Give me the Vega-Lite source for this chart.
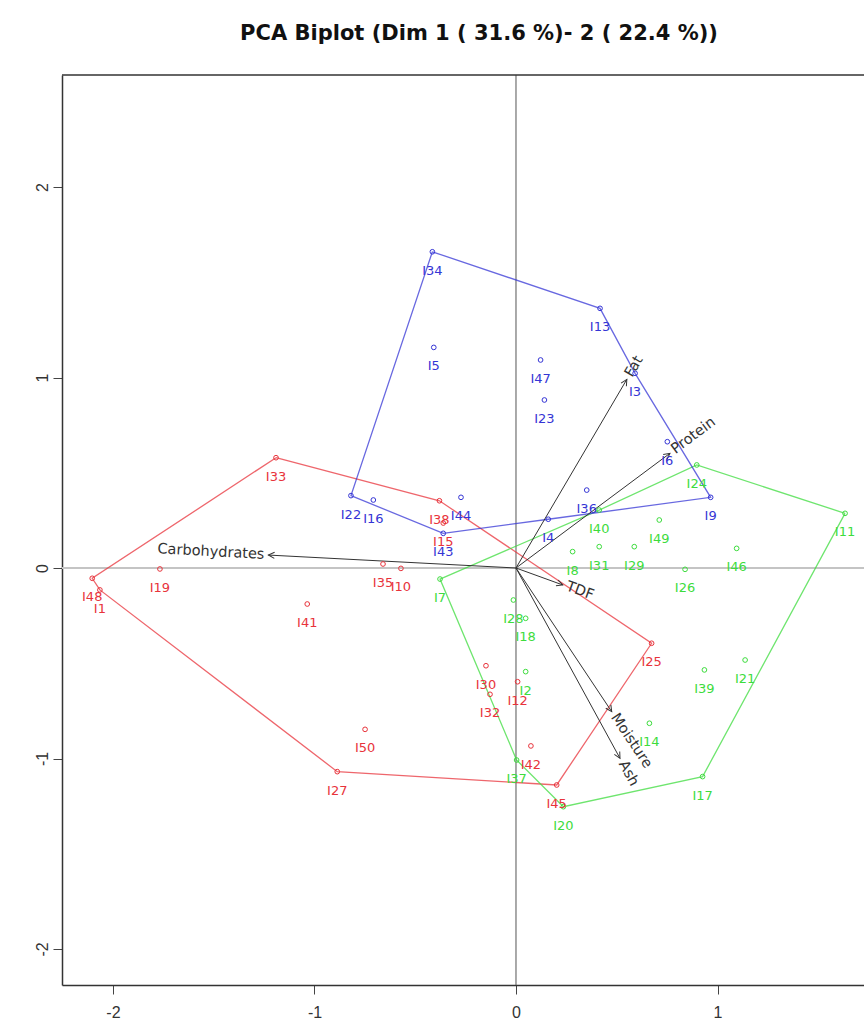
{
  "$schema": "https://vega.github.io/schema/vega-lite/v6.json",
  "width": 802,
  "height": 910,
  "autosize": {"type": "none"},
  "padding": {"left": 62, "top": 75, "right": 0, "bottom": 45},
  "title": {"text": "PCA Biplot (Dim 1 ( 31.6 %)- 2 ( 22.4 %))", "font": "DejaVu Sans", "fontSize": 21, "fontWeight": "bold", "color": "#111", "anchor": "middle", "dx": 16, "baseline": "alphabetic", "offset": 13},
  "config": {
    "view": {"stroke": null},
    "axis": {"grid": false, "domainColor": "#333", "domainWidth": 1.5, "tickColor": "#444", "tickSize": 9, "labelFont": "Liberation Sans", "labelFontSize": 16, "labelColor": "#333", "title": null}
  },
  "data": {"name": "points"},
  "datasets": {
    "points": [
      {"id": "I34", "x": -0.415, "y": 1.660, "cluster": "3"},
      {"id": "I5", "x": -0.408, "y": 1.158, "cluster": "3"},
      {"id": "I47", "x": 0.122, "y": 1.092, "cluster": "3"},
      {"id": "I23", "x": 0.141, "y": 0.882, "cluster": "3"},
      {"id": "I13", "x": 0.417, "y": 1.363, "cluster": "3"},
      {"id": "I3", "x": 0.591, "y": 1.022, "cluster": "3"},
      {"id": "I6", "x": 0.751, "y": 0.663, "cluster": "3"},
      {"id": "I9", "x": 0.966, "y": 0.371, "cluster": "3"},
      {"id": "I22", "x": -0.819, "y": 0.380, "cluster": "3"},
      {"id": "I16", "x": -0.708, "y": 0.357, "cluster": "3"},
      {"id": "I44", "x": -0.273, "y": 0.371, "cluster": "3"},
      {"id": "I43", "x": -0.361, "y": 0.182, "cluster": "3"},
      {"id": "I36", "x": 0.351, "y": 0.409, "cluster": "3"},
      {"id": "I4", "x": 0.160, "y": 0.256, "cluster": "3"},
      {"id": "I33", "x": -1.191, "y": 0.579, "cluster": "1"},
      {"id": "I38", "x": -0.380, "y": 0.353, "cluster": "1"},
      {"id": "I15", "x": -0.361, "y": 0.236, "cluster": "1"},
      {"id": "I19", "x": -1.767, "y": -0.005, "cluster": "1"},
      {"id": "I48", "x": -2.103, "y": -0.054, "cluster": "1"},
      {"id": "I1", "x": -2.065, "y": -0.115, "cluster": "1"},
      {"id": "I41", "x": -1.036, "y": -0.189, "cluster": "1"},
      {"id": "I35", "x": -0.660, "y": 0.021, "cluster": "1"},
      {"id": "I10", "x": -0.571, "y": -0.002, "cluster": "1"},
      {"id": "I30", "x": -0.149, "y": -0.513, "cluster": "1"},
      {"id": "I32", "x": -0.129, "y": -0.663, "cluster": "1"},
      {"id": "I12", "x": 0.008, "y": -0.597, "cluster": "1"},
      {"id": "I42", "x": 0.074, "y": -0.934, "cluster": "1"},
      {"id": "I25", "x": 0.673, "y": -0.395, "cluster": "1"},
      {"id": "I27", "x": -0.887, "y": -1.069, "cluster": "1"},
      {"id": "I50", "x": -0.749, "y": -0.847, "cluster": "1"},
      {"id": "I45", "x": 0.202, "y": -1.139, "cluster": "1"},
      {"id": "I11", "x": 1.633, "y": 0.287, "cluster": "2"},
      {"id": "I24", "x": 0.897, "y": 0.541, "cluster": "2"},
      {"id": "I40", "x": 0.413, "y": 0.304, "cluster": "2"},
      {"id": "I49", "x": 0.711, "y": 0.252, "cluster": "2"},
      {"id": "I31", "x": 0.413, "y": 0.112, "cluster": "2"},
      {"id": "I29", "x": 0.587, "y": 0.112, "cluster": "2"},
      {"id": "I46", "x": 1.095, "y": 0.103, "cluster": "2"},
      {"id": "I8", "x": 0.281, "y": 0.086, "cluster": "2"},
      {"id": "I26", "x": 0.839, "y": -0.007, "cluster": "2"},
      {"id": "I7", "x": -0.377, "y": -0.058, "cluster": "2"},
      {"id": "I28", "x": -0.013, "y": -0.168, "cluster": "2"},
      {"id": "I18", "x": 0.048, "y": -0.264, "cluster": "2"},
      {"id": "I2", "x": 0.048, "y": -0.544, "cluster": "2"},
      {"id": "I37", "x": 0.003, "y": -1.008, "cluster": "2"},
      {"id": "I20", "x": 0.235, "y": -1.253, "cluster": "2"},
      {"id": "I14", "x": 0.662, "y": -0.815, "cluster": "2"},
      {"id": "I39", "x": 0.935, "y": -0.535, "cluster": "2"},
      {"id": "I21", "x": 1.137, "y": -0.483, "cluster": "2"},
      {"id": "I17", "x": 0.926, "y": -1.095, "cluster": "2"}
    ],
    "hull": [
      {"cluster": "1", "ord": 1, "x": -1.191, "y": 0.579},
      {"cluster": "1", "ord": 2, "x": -0.380, "y": 0.353},
      {"cluster": "1", "ord": 3, "x": 0.673, "y": -0.395},
      {"cluster": "1", "ord": 4, "x": 0.202, "y": -1.139},
      {"cluster": "1", "ord": 5, "x": -0.887, "y": -1.069},
      {"cluster": "1", "ord": 6, "x": -2.065, "y": -0.115},
      {"cluster": "1", "ord": 7, "x": -2.103, "y": -0.054},
      {"cluster": "1", "ord": 8, "x": -1.191, "y": 0.579},
      {"cluster": "2", "ord": 1, "x": 1.633, "y": 0.287},
      {"cluster": "2", "ord": 2, "x": 0.897, "y": 0.541},
      {"cluster": "2", "ord": 3, "x": 0.413, "y": 0.304},
      {"cluster": "2", "ord": 4, "x": -0.377, "y": -0.058},
      {"cluster": "2", "ord": 5, "x": 0.003, "y": -1.008},
      {"cluster": "2", "ord": 6, "x": 0.235, "y": -1.253},
      {"cluster": "2", "ord": 7, "x": 0.926, "y": -1.095},
      {"cluster": "2", "ord": 8, "x": 1.633, "y": 0.287},
      {"cluster": "3", "ord": 1, "x": -0.415, "y": 1.660},
      {"cluster": "3", "ord": 2, "x": 0.417, "y": 1.363},
      {"cluster": "3", "ord": 3, "x": 0.591, "y": 1.022},
      {"cluster": "3", "ord": 4, "x": 0.966, "y": 0.371},
      {"cluster": "3", "ord": 5, "x": 0.160, "y": 0.256},
      {"cluster": "3", "ord": 6, "x": -0.361, "y": 0.182},
      {"cluster": "3", "ord": 7, "x": -0.819, "y": 0.380},
      {"cluster": "3", "ord": 8, "x": -0.415, "y": 1.660}
    ],
    "vars": [
      {"name": "Fat", "x": 0.55, "y": 0.99},
      {"name": "Protein", "x": 0.764, "y": 0.602},
      {"name": "Carbohydrates", "x": -1.229, "y": 0.068},
      {"name": "TDF", "x": 0.232, "y": -0.089},
      {"name": "Moisture", "x": 0.475, "y": -0.754},
      {"name": "Ash", "x": 0.516, "y": -0.999}
    ],
    "one": [{"k": 1}]
  },
  "layer": [
    {
      "data": {"name": "one"},
      "mark": {"type": "rule", "color": "#c4c4c4", "strokeWidth": 2},
      "encoding": {"y": {"datum": 0, "type": "quantitative", "scale": {"domain": [-2.189, 2.588], "nice": false, "zero": false}}}
    },
    {
      "data": {"name": "one"},
      "mark": {"type": "rule", "color": "#555", "strokeWidth": 1},
      "encoding": {"x": {"datum": 0, "type": "quantitative", "scale": {"domain": [-2.253, 1.727], "nice": false, "zero": false}}}
    },
    {
      "data": {"name": "one"},
      "mark": {"type": "rule", "color": "#333", "strokeWidth": 1.5},
      "encoding": {"y": {"datum": 2.588, "type": "quantitative"}}
    },
    {
      "data": {"name": "hull"},
      "mark": {"type": "line", "strokeWidth": 1.3, "opacity": 0.75},
      "encoding": {
        "x": {"field": "x", "type": "quantitative"},
        "y": {"field": "y", "type": "quantitative"},
        "color": {"field": "cluster", "type": "nominal", "scale": {"domain": ["1", "2", "3"], "range": ["#e8333b", "#3ddc3d", "#3535d5"]}, "legend": null},
        "detail": {"field": "cluster", "type": "nominal"},
        "order": {"field": "ord", "type": "quantitative"}
      }
    },
    {
      "data": {"name": "vars"},
      "mark": {"type": "rule", "color": "#333", "strokeWidth": 1},
      "encoding": {
        "x": {"field": "x", "type": "quantitative"},
        "y": {"field": "y", "type": "quantitative"},
        "x2": {"datum": 0},
        "y2": {"datum": 0}
      }
    },
    {
      "data": {"name": "vars"},
      "transform": [{"calculate": "atan2(datum.x * 201.5, datum.y * 190.5) * 180 / PI", "as": "ha"}],
      "mark": {"type": "point", "shape": "M-0.5,1L0,0L0.5,1", "filled": false, "color": "#333", "strokeWidth": 1, "size": 150, "opacity": 1},
      "encoding": {
        "x": {"field": "x", "type": "quantitative"},
        "y": {"field": "y", "type": "quantitative"},
        "angle": {"field": "ha", "type": "quantitative", "scale": null}
      }
    },
    {
      "mark": {"type": "point", "shape": "circle", "filled": false, "size": 22, "strokeWidth": 1, "opacity": 1},
      "encoding": {
        "x": {"field": "x", "type": "quantitative", "axis": {"values": [-2, -1, 0, 1], "labelPadding": 10, "labelExpr": "toString(datum.value)"}},
        "y": {"field": "y", "type": "quantitative", "axis": {"values": [-2, -1, 0, 1, 2], "labelAngle": -90, "labelAlign": "center", "labelBaseline": "bottom", "labelPadding": 3, "labelExpr": "toString(datum.value)"}},
        "color": {"field": "cluster", "type": "nominal", "legend": null}
      }
    },
    {
      "mark": {"type": "text", "font": "DejaVu Sans", "fontSize": 13, "dy": 19, "baseline": "middle", "align": "center"},
      "encoding": {
        "x": {"field": "x", "type": "quantitative"},
        "y": {"field": "y", "type": "quantitative"},
        "text": {"field": "id", "type": "nominal"},
        "color": {"field": "cluster", "type": "nominal", "legend": null}
      }
    },
    {
      "data": {"name": "vars"},
      "transform": [
        {"filter": "datum.x > 0"},
        {"calculate": "atan(-(datum.y * 190.5) / (datum.x * 201.5)) * 180 / PI", "as": "ta"}
      ],
      "mark": {"type": "text", "font": "DejaVu Sans", "fontSize": 14.5, "color": "#333", "align": "left", "baseline": "middle", "dx": 4},
      "encoding": {
        "x": {"field": "x", "type": "quantitative"},
        "y": {"field": "y", "type": "quantitative"},
        "text": {"field": "name", "type": "nominal"},
        "angle": {"field": "ta", "type": "quantitative", "scale": null}
      }
    },
    {
      "data": {"name": "vars"},
      "transform": [
        {"filter": "datum.x < 0"},
        {"calculate": "atan(-(datum.y * 190.5) / (datum.x * 201.5)) * 180 / PI", "as": "ta"}
      ],
      "mark": {"type": "text", "font": "DejaVu Sans", "fontSize": 14.5, "color": "#333", "align": "right", "baseline": "middle", "dx": -4},
      "encoding": {
        "x": {"field": "x", "type": "quantitative"},
        "y": {"field": "y", "type": "quantitative"},
        "text": {"field": "name", "type": "nominal"},
        "angle": {"field": "ta", "type": "quantitative", "scale": null}
      }
    }
  ]
}
